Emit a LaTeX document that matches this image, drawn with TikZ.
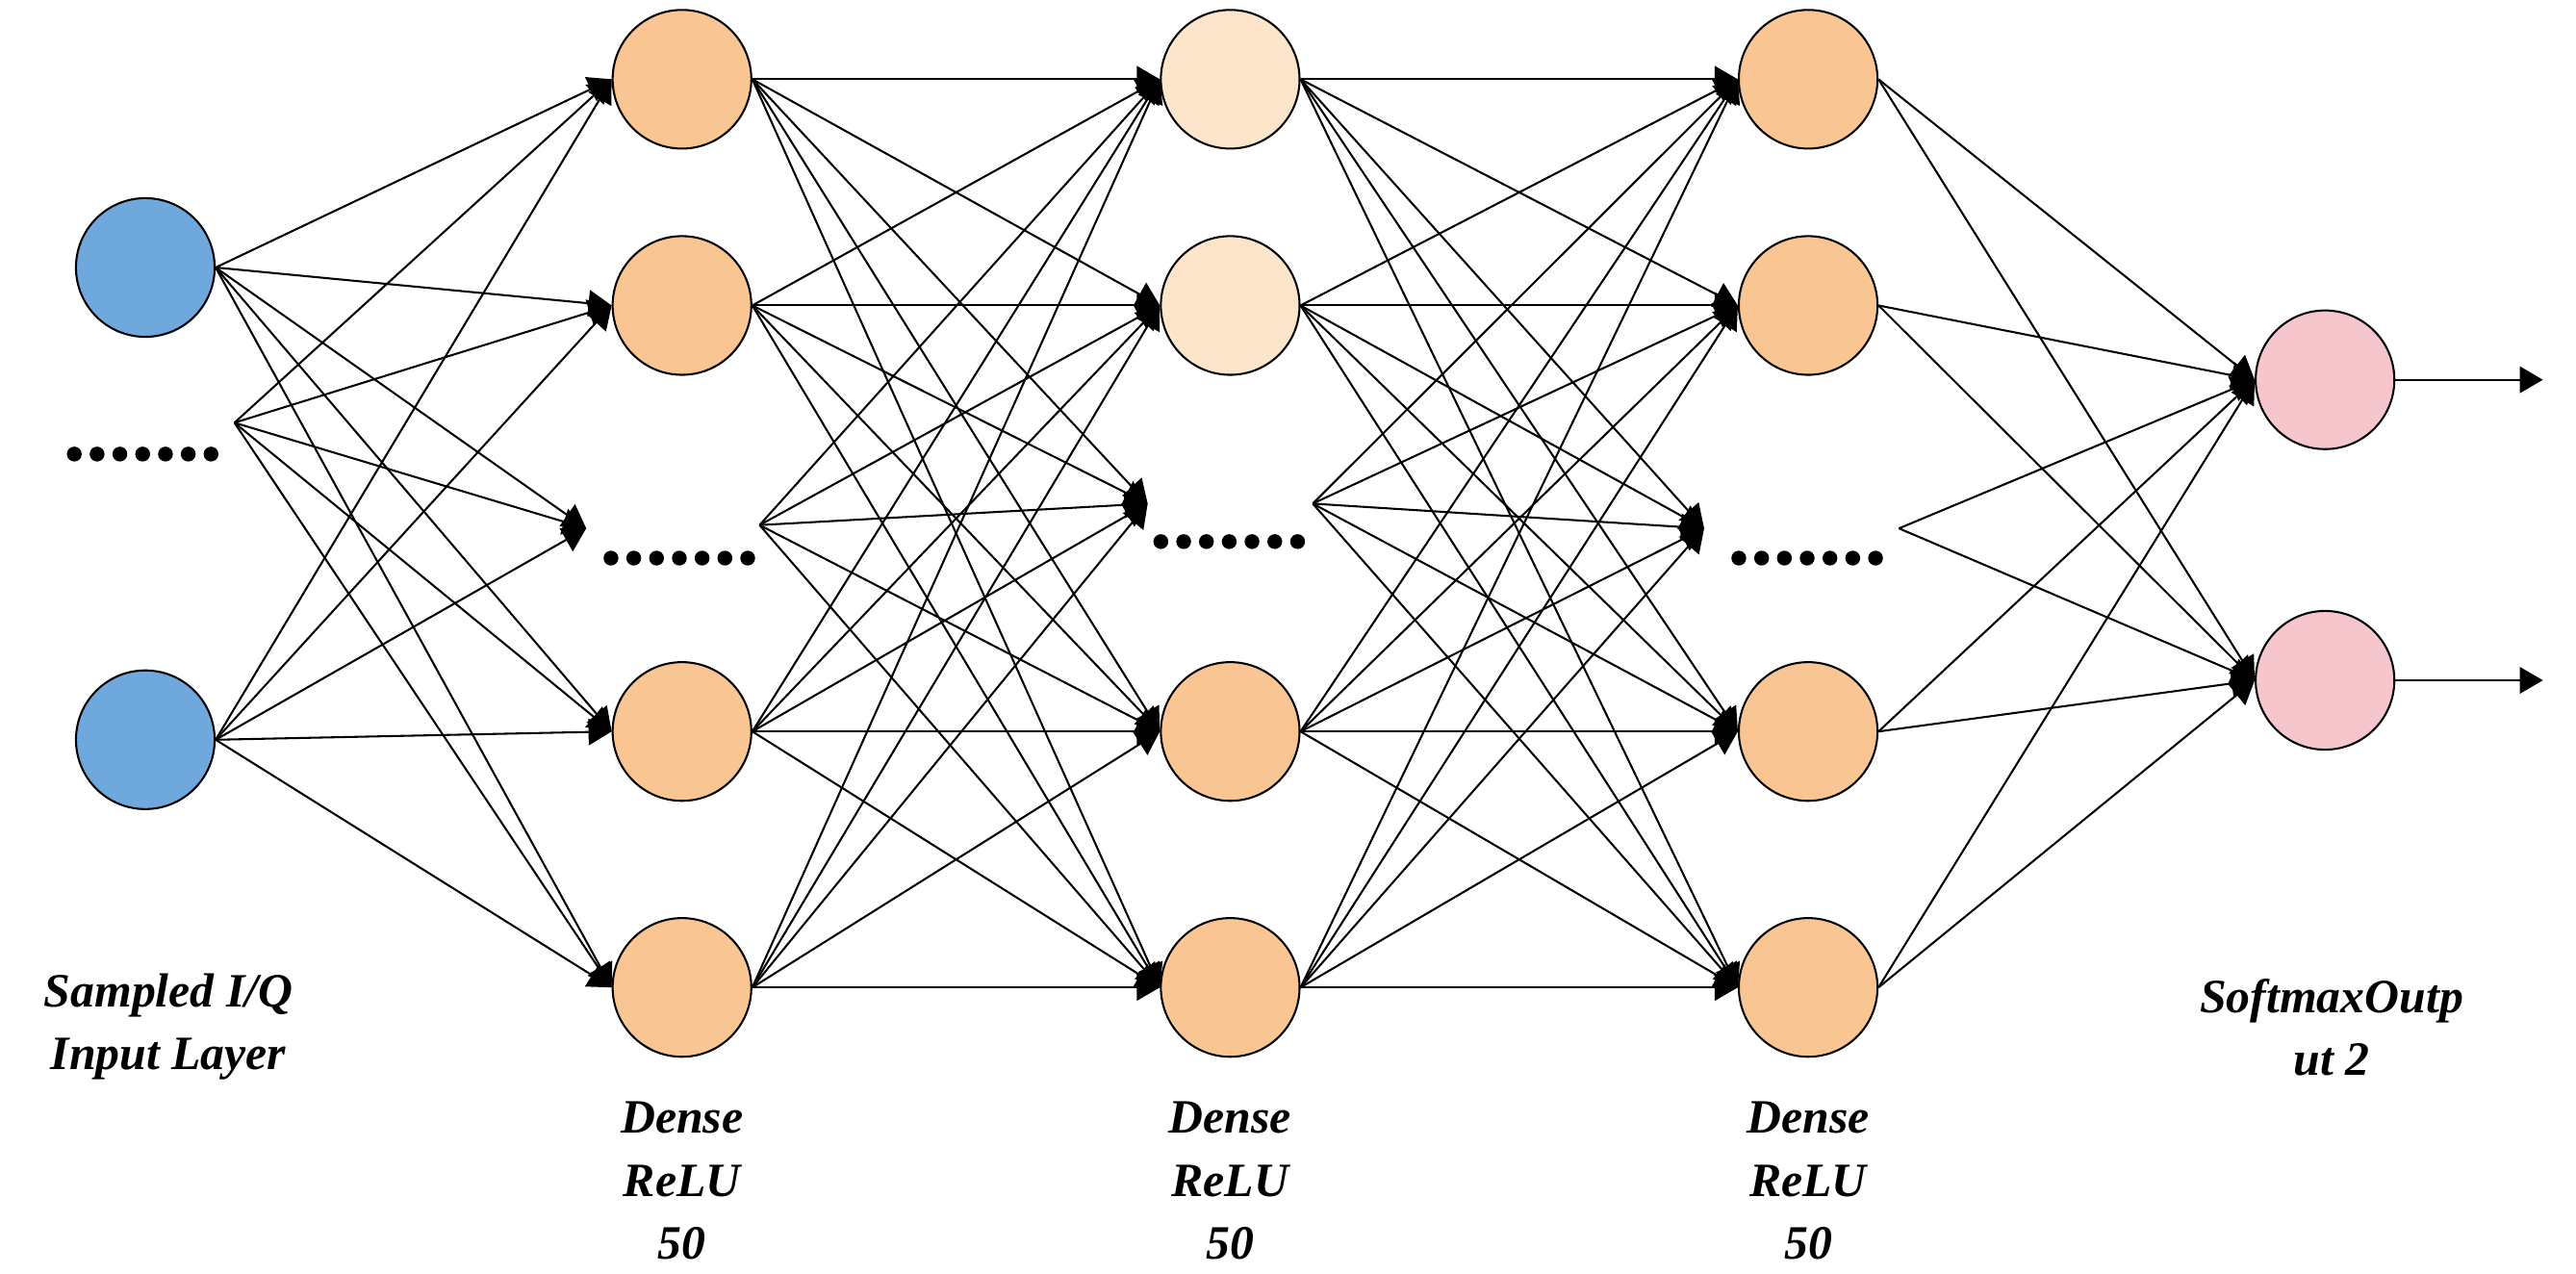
\documentclass[tikz,border=0pt]{standalone}
\usepackage{fontspec}
\setmainfont{Liberation Serif}
\usetikzlibrary{arrows.meta}
\definecolor{inblue}{HTML}{6FA8DC}
\definecolor{orng}{HTML}{F9C592}
\definecolor{lorng}{HTML}{FDE5CC}
\definecolor{pnk}{HTML}{F5C6CB}
\begin{document}
\begin{tikzpicture}[x=0.5pt,y=-0.5pt,
  neu/.style={circle,draw=black,line width=0.6pt,minimum size=42pt,inner sep=0pt},
  con/.style={line width=0.6pt,-{Triangle[length=7pt,width=8pt]}},
  lab/.style={font=\fontsize{14.5}{19}\selectfont\bfseries\itshape,align=center},
  dot/.style={circle,fill=black,inner sep=0pt,minimum size=4.5pt}]
\useasboundingbox (0,0) rectangle (1560,771);
% nodes
\node[neu,fill=inblue] (I1) at (88,162) {};
\node[neu,fill=inblue] (I2) at (88,448) {};
\coordinate (P0) at (142,256);
\foreach \n/\y in {a/48,b/185,c/443,d/598}{
  \node[neu,fill=orng] (A\n) at (413,\y) {};
  \node[neu,fill=orng] (C\n) at (1095,\y) {};
}
\node[neu,fill=lorng] (Ba) at (745,48) {};
\node[neu,fill=lorng] (Bb) at (745,185) {};
\node[neu,fill=orng] (Bc) at (745,443) {};
\node[neu,fill=orng] (Bd) at (745,598) {};
\node[neu,fill=pnk] (O1) at (1408,230) {};
\node[neu,fill=pnk] (O2) at (1408,412) {};
\coordinate (TA) at (355,320);
\coordinate (SA) at (460,318);
\coordinate (TB) at (695,305);
\coordinate (SB) at (795,305);
\coordinate (TC) at (1032,320);
\coordinate (SC) at (1150,320);
\coordinate (E1) at (1540,230);
\coordinate (E2) at (1540,412);
% dots
\foreach \i in {0,...,6}{
  \node[dot] (d0\i) at (45+13.8*\i,275) {};
  \node[dot] (d1\i) at (370+13.8*\i,338) {};
  \node[dot] (d2\i) at (703+13.8*\i,328) {};
  \node[dot] (d3\i) at (1053+13.8*\i,338) {};
}
% connections
\foreach \s in {I1,I2}{
  \foreach \t in {Aa,Ab,Ac,Ad}{\draw[con] (\s.east) -- (\t.west);}
  \draw[con] (\s.east) -- (TA);}
\foreach \t in {Aa,Ab,Ac,Ad}{\draw[con] (P0) -- (\t.west);}
\draw[con] (P0) -- (TA);
\foreach \s in {Aa,Ab,Ac,Ad}{
  \foreach \t in {Ba,Bb,Bc,Bd}{\draw[con] (\s.east) -- (\t.west);}
  \draw[con] (\s.east) -- (TB);}
\foreach \t in {Ba,Bb,Bc,Bd}{\draw[con] (SA) -- (\t.west);}
\draw[con] (SA) -- (TB);
\foreach \s in {Ba,Bb,Bc,Bd}{
  \foreach \t in {Ca,Cb,Cc,Cd}{\draw[con] (\s.east) -- (\t.west);}
  \draw[con] (\s.east) -- (TC);}
\foreach \t in {Ca,Cb,Cc,Cd}{\draw[con] (SB) -- (\t.west);}
\draw[con] (SB) -- (TC);
\foreach \s in {Ca,Cb,Cc,Cd}{
  \foreach \t in {O1,O2}{\draw[con] (\s.east) -- (\t.west);}}
\foreach \t in {O1,O2}{\draw[con] (SC) -- (\t.west);}
\draw[con] (O1.east) -- (E1);
\draw[con] (O2.east) -- (E2);
% labels
\node[lab] (l0) at (102,622) {Sampled I/Q\\Input Layer};
\node[lab] (l1) at (413,715) {Dense\\ReLU\\50};
\node[lab] (l2) at (745,715) {Dense\\ReLU\\50};
\node[lab] (l3) at (1095,715) {Dense\\ReLU\\50};
\node[lab] (l4) at (1412,622) {SoftmaxOutp\\ut 2};
\end{tikzpicture}
\end{document}
